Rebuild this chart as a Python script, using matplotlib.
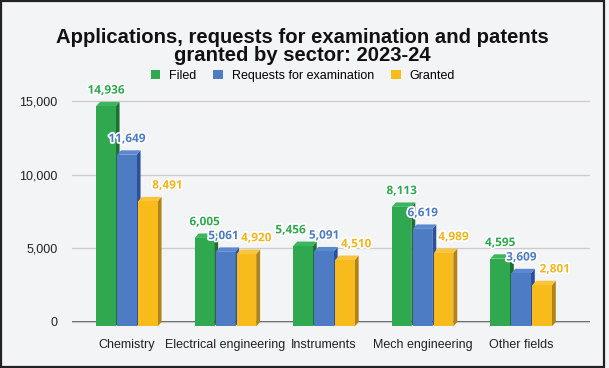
import numpy as np
import matplotlib.pyplot as plt
import matplotlib.patheffects as pe
from matplotlib.patches import Patch, Rectangle

# Data
sectors = ["Chemistry", "Electrical engineering", "Instruments", "Mech engineering", "Other fields"]
filed = [14936, 6005, 5456, 8113, 4595]
requests = [11649, 5061, 5091, 6619, 3609]
granted = [8491, 4920, 4510, 4989, 2801]
series_names = ["Filed", "Requests for examination", "Granted"]

# horizontal nudges (points) of the value labels, as placed in the original
nudge = [[0, 0, -9, 0, 0],
         [0, -1.5, 0, 0, 0],
         [14, 7, 8, 7, 9]]

front_cols = ["#2fa84f", "#4d7cc5", "#f8bb1c"]
top_cols = ["#3cb65c", "#5b88cf", "#fbc43a"]
side_cols = ["#1d7034", "#2b519c", "#b0841a"]
label_cols = ["#2fa84f", "#4d7cc5", "#f5b41c"]
bg = "#f3f4f6"

plt.rcParams['font.family'] = ['Liberation Sans', 'DejaVu Sans']

fig = plt.figure(figsize=(6.09, 3.68), dpi=100, facecolor=bg)
ax = fig.add_axes([0.118, 0.097, 0.851, 0.6487])
ax.set_facecolor(bg)

x = np.arange(len(sectors))
w = 0.198
step = 0.213
dx = 0.04    # depth in x units
dy = 300     # depth in y units

z = 3
for i, vals in enumerate([filed, requests, granted]):
    for xi, v in zip(x, vals):
        x0 = xi + (i - 1) * step - w / 2
        # side face
        ax.fill([x0 + w, x0 + w + dx, x0 + w + dx, x0 + w],
                [-dy, 0, v, v - dy], color=side_cols[i], zorder=z, lw=0)
        # top face
        ax.fill([x0, x0 + w, x0 + w + dx, x0 + dx],
                [v - dy, v - dy, v, v], color=top_cols[i], zorder=z, lw=0)
        # front face
        ax.bar(x0, v, bottom=-dy, width=w, align='edge', color=front_cols[i],
               zorder=z + 0.1, lw=0)
        z += 1
for i, vals in enumerate([filed, requests, granted]):
    for j, (xi, v) in enumerate(zip(x, vals)):
        ax.annotate(f"{v:,}", (xi + (i - 1) * step, v), xytext=(nudge[i][j], 3.8),
                    textcoords='offset points', ha='center', va='bottom',
                    fontsize=8.5, fontweight='bold', color=label_cols[i],
                    family=['Open Sans', 'DejaVu Sans'], zorder=100,
                    path_effects=[pe.withStroke(linewidth=2.5, foreground='white')])

ax.set_xlim(-0.558, 4.70)
ax.set_ylim(-700, 15500)
ax.set_yticks([0, 5000, 10000, 15000])
ax.set_yticklabels([f"{t:,}" for t in [0, 5000, 10000, 15000]])
ax.set_xticks(x)
ax.set_xticklabels(sectors)
ax.tick_params(length=0, labelsize=9, labelcolor='#222222')
ax.tick_params(axis='y', pad=10.5)
ax.tick_params(axis='x', pad=4.5)
ax.grid(axis='y', color='#cccccc', lw=0.9, zorder=0)
ax.axhline(0, color='#333333', lw=1.1, zorder=1)
for s in ax.spines.values():
    s.set_visible(False)

fig.text(0.497, 0.874, "Applications, requests for examination and patents\ngranted by sector: 2023-24",
         ha='center', va='center', fontsize=14.6, fontweight='bold', color='#111111',
         linespacing=0.98)

handles = [Patch(facecolor=c, edgecolor='none') for c in front_cols]
fig.legend(handles, series_names, loc='center', bbox_to_anchor=(0.497, 0.793), ncol=3,
           frameon=False, fontsize=9, handlelength=0.75, handleheight=0.75,
           handletextpad=0.7, columnspacing=1.4)

fig.patches.append(Rectangle((0.002, 0.004), 0.99, 0.993, transform=fig.transFigure,
                             fill=False, edgecolor='#222222', lw=1.6))

fig.savefig("out.png", dpi=100, facecolor=bg)
